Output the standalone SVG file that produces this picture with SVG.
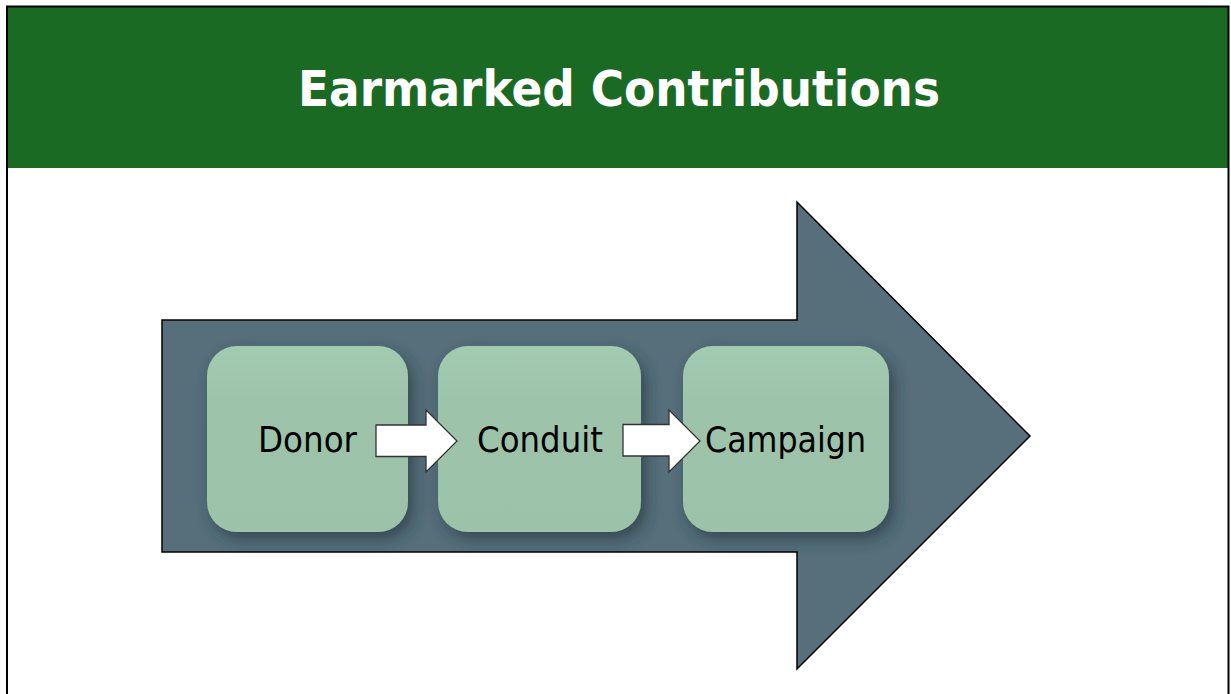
<svg xmlns="http://www.w3.org/2000/svg" width="1231" height="694" viewBox="0 0 1231 694">
<style>
.box{fill:url(#boxGrad);filter:url(#shadow)}
.lbl{font-family:"DejaVu Sans","Liberation Sans",sans-serif;font-size:36px;fill:#000;text-anchor:middle}
.flow{fill:#fff;stroke:#333;stroke-width:1.3;stroke-linejoin:miter}
</style>
<defs>
<linearGradient id="boxGrad" x1="0" y1="0" x2="0" y2="1">
<stop offset="0" stop-color="#a3cbb2"/>
<stop offset="0.3" stop-color="#9dc4ab"/>
<stop offset="1" stop-color="#9cc3aa"/>
</linearGradient>
<filter id="shadow" x="-20%" y="-20%" width="150%" height="150%">
<feDropShadow dx="5" dy="7" stdDeviation="8" flood-color="#1e2e38" flood-opacity="0.6"/>
</filter>
</defs>
<rect x="0" y="0" width="1231" height="694" fill="#fff"/>
<g id="header">
<rect x="7" y="7" width="1221" height="161" fill="#1b6a24"/>
<text x="619" y="106" font-family="'DejaVu Sans','Liberation Sans',sans-serif" font-size="50" font-weight="bold" fill="#fff" text-anchor="middle" textLength="642" lengthAdjust="spacingAndGlyphs">Earmarked Contributions</text>
</g>
<path d="M7 700 V6.5 H1228.5 V700" fill="none" stroke="#000" stroke-width="2"/>
<g id="big-arrow">
<polygon points="162,320 797,320 797,202 1030,436 797,669 797,552 162,552" fill="#566f7b" stroke="#000" stroke-width="1.5" stroke-linejoin="miter"/>
</g>
<g id="donor">
<rect class="box" x="207" y="346" width="201" height="186" rx="30"/>
<text class="lbl" x="307.5" y="452" textLength="99" lengthAdjust="spacingAndGlyphs">Donor</text>
</g>
<g id="conduit">
<rect class="box" x="438" y="346" width="203" height="186" rx="30"/>
<text class="lbl" x="540" y="452" textLength="126" lengthAdjust="spacingAndGlyphs">Conduit</text>
</g>
<g id="campaign">
<rect class="box" x="683" y="346" width="206" height="186" rx="30"/>
<text class="lbl" x="785.5" y="452" textLength="161" lengthAdjust="spacingAndGlyphs">Campaign</text>
</g>
<g id="connectors">
<polygon class="flow" points="376,425 426,425 426,410 457,441 426,472 426,456.5 376,456.5"/>
<polygon class="flow" points="623,424.5 669,424.5 669,410 700,441 669,472 669,456 623,456"/>
</g>
</svg>
